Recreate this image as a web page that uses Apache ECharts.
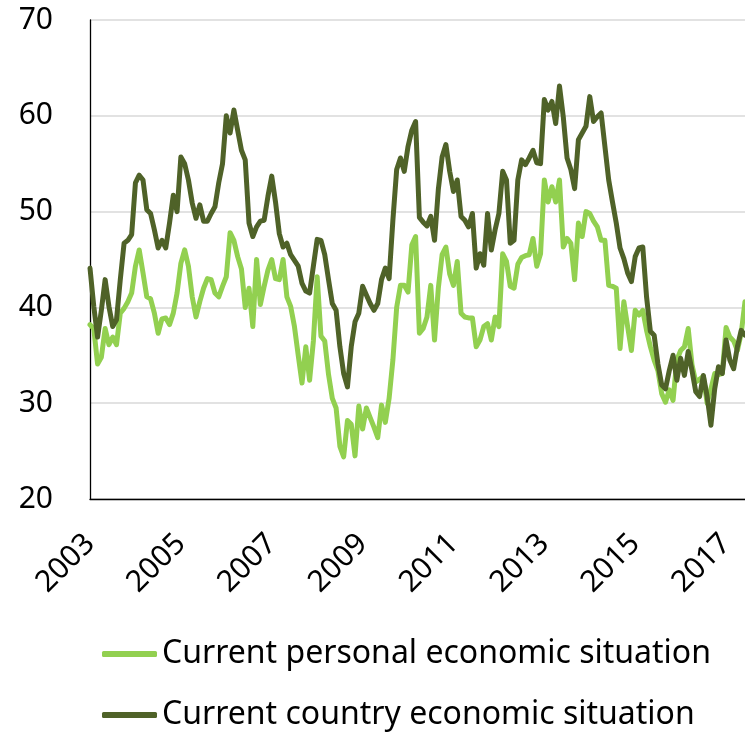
<!DOCTYPE html>
<html>
<head>
<meta charset="utf-8">
<script src="https://cdn.jsdelivr.net/npm/echarts@6/dist/echarts.min.js"></script>
<style>
  html, body { margin: 0; padding: 0; background: #fff; }
  #chart { width: 745px; height: 732px; }
</style>
</head>
<body>
<div id="chart"></div>
<script>
// monthly survey, Jan 2003 .. Jun 2017
const startYear = 2003
const monthCount = 174
const tickYears = ['2003', '2005', '2007', '2009', '2011', '2013', '2015', '2017']

const seriesNames = ['Current personal economic situation', 'Current country economic situation']

const personal = [
  38.2, 37.8, 34.1, 34.8, 37.8, 36.1, 36.9, 36.1, 39.4, 39.9, 40.6, 41.5,
  44.3, 46.0, 43.6, 41.1, 40.9, 39.4, 37.3, 38.8, 38.9, 38.2, 39.4, 41.5,
  44.6, 46.0, 44.3, 41.1, 39.0, 40.6, 42.0, 43.0, 42.9, 41.5, 41.1, 42.2,
  43.2, 47.8, 47.0, 45.3, 44.0, 40.0, 42.0, 38.0, 45.0, 40.3, 42.2, 43.9,
  45.0, 43.0, 42.9, 45.0, 41.1, 40.1, 38.0, 35.0, 32.1, 35.9, 32.4, 36.5,
  43.2, 37.0, 36.5, 33.0, 30.5, 29.5, 25.5, 24.4, 28.2, 27.8, 24.5, 29.7,
  27.3, 29.5, 28.5, 27.5, 26.4, 29.8, 28.0, 30.5, 34.5, 40.0, 42.3, 42.3,
  41.6, 46.5, 47.4, 37.3, 37.8, 39.0, 42.3, 36.6, 42.0, 45.5, 46.3, 43.5,
  42.3, 44.8, 39.4, 39.0, 38.9, 38.9, 35.9, 36.6, 38.0, 38.3, 36.6, 39.0,
  38.0, 45.6, 44.8, 42.2, 42.0, 44.5, 45.2, 45.4, 45.5, 47.2, 44.3, 45.6,
  53.3, 51.0, 52.6, 51.0, 53.3, 46.3, 47.2, 46.7, 42.9, 48.8, 47.4, 50.0,
  49.8, 49.0, 48.4, 47.0, 47.0, 42.3, 42.2, 42.0, 35.7, 40.6, 38.0, 35.5,
  39.7, 39.2, 39.7, 37.6, 35.9, 34.5, 33.4, 31.0, 30.1, 31.4, 30.3, 34.5,
  35.5, 35.9, 37.8, 34.0, 32.2, 32.5, 32.8, 30.0, 31.5, 33.1, 33.0, 33.1,
  37.9, 36.9, 36.5, 35.5, 37.3, 40.6
]

const country = [
  44.1, 40.1, 36.9, 39.7, 42.9, 40.1, 38.0, 38.7, 42.9, 46.7, 47.0, 47.6,
  53.0, 53.8, 53.3, 50.2, 49.8, 48.1, 46.2, 47.0, 46.2, 48.8, 51.7, 50.0,
  55.7, 55.0, 53.3, 50.9, 49.3, 50.7, 49.0, 49.0, 49.8, 50.5, 53.0, 55.0,
  60.0, 58.2, 60.6, 58.5, 56.4, 55.4, 48.8, 47.4, 48.4, 49.0, 49.1, 51.6,
  53.7, 51.0, 47.7, 46.3, 46.7, 45.5, 44.9, 44.3, 42.5, 41.7, 41.5, 44.3,
  47.1, 47.0, 45.5, 42.9, 40.4, 39.7, 35.9, 33.1, 31.7, 35.9, 38.5, 39.4,
  42.2, 41.3, 40.4, 39.7, 40.4, 42.9, 44.1, 43.0, 49.1, 54.4, 55.6, 54.2,
  56.8, 58.5, 59.4, 49.4, 48.9, 48.5, 49.5, 47.0, 52.3, 55.7, 57.0, 54.2,
  52.1, 53.3, 49.5, 49.1, 48.4, 49.8, 44.1, 45.6, 44.4, 49.8, 46.0, 48.1,
  49.8, 54.2, 53.3, 46.7, 47.0, 53.3, 55.4, 54.9, 55.6, 56.4, 55.1, 55.0,
  61.7, 60.6, 61.5, 59.2, 63.1, 59.9, 55.6, 54.4, 52.4, 57.5, 58.2, 58.9,
  62.0, 59.4, 59.9, 60.3, 56.8, 53.3, 51.0, 48.8, 46.2, 45.1, 43.6, 42.7,
  45.3, 46.2, 46.3, 41.1, 37.5, 37.1, 34.1, 31.9, 31.5, 33.4, 35.0, 32.4,
  34.7, 32.9, 35.4, 33.4, 31.2, 30.7, 32.9, 30.7, 27.7, 31.5, 33.8, 33.1,
  36.6, 34.5, 33.6, 35.9, 37.6, 37.1
]

const colors = ['#92D050', '#4F6228']

const months = []
for (let i = 0; i < monthCount; i++) {
  const y = startYear + Math.floor(i / 12)
  const m = (i % 12) + 1
  months.push(y + '-' + String(m).padStart(2, '0'))
}

const font = '"Noto Sans", "DejaVu Sans", sans-serif'

// one legend per row so the two entries stack like the original
function legendRow(name, top) {
  return {
    left: 102,
    top: top,
    padding: 0,
    icon: 'roundRect',
    itemWidth: 55,
    itemHeight: 6,
    textStyle: { fontFamily: font, fontSize: 32, color: '#000', lineHeight: 30 },
    data: [name]
  }
}

const chart = echarts.init(document.getElementById('chart'), null, { renderer: 'canvas' })

chart.setOption({
  animation: false,
  color: colors,
  grid: { left: 90, right: 0, top: 20, bottom: 233, containLabel: false },
  legend: [legendRow(seriesNames[0], 638), legendRow(seriesNames[1], 699)],
  xAxis: {
    type: 'category',
    boundaryGap: false,
    data: months,
    axisLine: { show: true, lineStyle: { color: '#000', width: 1.3 } },
    axisTick: { show: false },
    splitLine: { show: false },
    axisLabel: {
      rotate: 45,
      margin: 40,
      fontFamily: font,
      fontSize: 30,
      color: '#000',
      interval: (idx, val) => idx % 24 === 0 && tickYears.includes(val.slice(0, 4)),
      formatter: (val) => val.slice(0, 4)
    }
  },
  yAxis: {
    type: 'value',
    min: 20,
    max: 70,
    interval: 10,
    axisLine: { show: true, lineStyle: { color: '#000', width: 1.3 } },
    axisTick: { show: false },
    splitLine: { show: true, lineStyle: { color: '#D9D9D9', width: 1.5 } },
    axisLabel: { margin: 37, fontFamily: font, fontSize: 30, color: '#000' }
  },
  series: [
    {
      name: seriesNames[0],
      type: 'line',
      data: personal,
      showSymbol: false,
      symbol: 'none',
      lineStyle: { width: 5, color: colors[0], cap: 'round', join: 'round' }
    },
    {
      name: seriesNames[1],
      type: 'line',
      data: country,
      showSymbol: false,
      symbol: 'none',
      lineStyle: { width: 5, color: colors[1], cap: 'round', join: 'round' }
    }
  ]
})
</script>
</body>
</html>
